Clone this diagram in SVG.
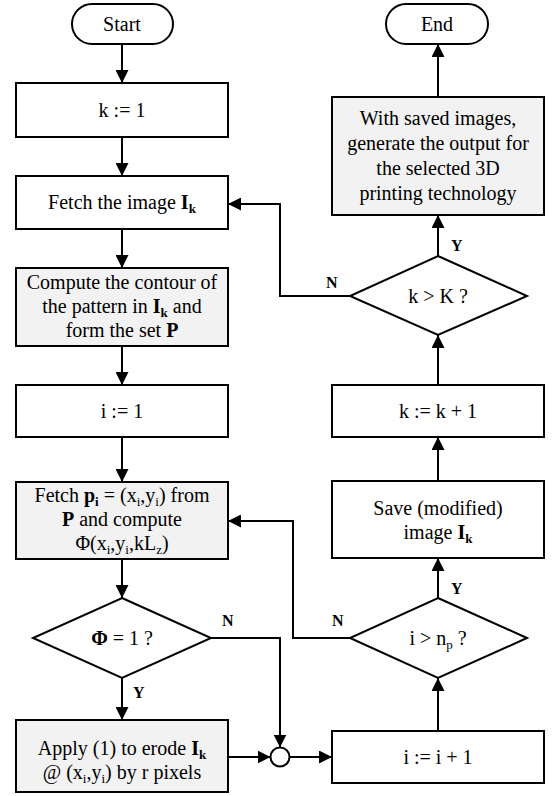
<svg xmlns="http://www.w3.org/2000/svg" width="558" height="796" viewBox="0 0 558 796" font-family="'Liberation Serif', 'Times New Roman', 'DejaVu Serif', serif">
<defs>
<style>
.box{fill:#ffffff;stroke:#000;stroke-width:2}
.gray{fill:#f2f2f2;stroke:#000;stroke-width:2}
.t{font-size:20px;fill:#000;text-anchor:middle}
.s{font-size:13px}
.b{font-weight:bold}
.lbl{font-size:16px;font-weight:bold;fill:#000}
.c{fill:none;stroke:#000;stroke-width:2;marker-end:url(#arr)}
</style>
<marker id="arr" markerUnits="userSpaceOnUse" markerWidth="14" markerHeight="13" refX="13" refY="6.5" orient="auto">
<path d="M0,0 L13,6.5 L0,13 z" fill="#000"/>
</marker>
</defs>
<rect width="558" height="796" fill="#fff"/>

<g id="start">
<rect class="box" x="72" y="4" width="101" height="40" rx="20" ry="20"/>
<text class="t" x="122" y="31">Start</text>
</g>
<g id="k1">
<rect class="box" x="16" y="83" width="212" height="54"/>
<text class="t" x="122" y="117">k := 1</text>
</g>
<g id="fetchimg">
<rect class="box" x="16" y="176" width="212" height="53"/>
<text class="t" x="122" y="209">Fetch the image <tspan class="b">I</tspan><tspan class="b s" dy="4">k</tspan></text>
</g>
<g id="contour">
<rect class="gray" x="16" y="268" width="212" height="78"/>
<text class="t" x="122" y="289">Compute the contour of</text>
<text class="t" x="122" y="313">the pattern in <tspan class="b">I</tspan><tspan class="b s" dy="4">k</tspan><tspan dy="-4"> and</tspan></text>
<text class="t" x="122" y="337">form the set <tspan class="b">P</tspan></text>
</g>
<g id="i1">
<rect class="box" x="16" y="385" width="212" height="52"/>
<text class="t" x="122" y="418">i := 1</text>
</g>
<g id="fetchp">
<rect class="gray" x="16" y="482" width="212" height="77"/>
<text class="t" x="122" y="502">Fetch <tspan class="b">p</tspan><tspan class="b s" dy="4">i</tspan><tspan dy="-4"> = (x</tspan><tspan class="s" dy="4">i</tspan><tspan dy="-4">,y</tspan><tspan class="s" dy="4">i</tspan><tspan dy="-4">) from</tspan></text>
<text class="t" x="122" y="526"><tspan class="b">P</tspan> and compute</text>
<text class="t" x="122" y="550">Φ(x<tspan class="s" dy="4">i</tspan><tspan dy="-4">,y</tspan><tspan class="s" dy="4">i</tspan><tspan dy="-4">,kL</tspan><tspan class="s" dy="4">z</tspan><tspan dy="-4">)</tspan></text>
</g>
<g id="phi">
<polygon class="box" points="122,598 211,638 122,678 33,638"/>
<text class="t" x="122" y="645"><tspan class="b">Φ</tspan> = 1 ?</text>
</g>
<g id="apply">
<rect class="gray" x="16" y="720" width="212" height="72"/>
<text class="t" x="122" y="755">Apply (1) to erode <tspan class="b">I</tspan><tspan class="b s" dy="4">k</tspan></text>
<text class="t" x="122" y="779">@ (x<tspan class="s" dy="4">i</tspan><tspan dy="-4">,y</tspan><tspan class="s" dy="4">i</tspan><tspan dy="-4">) by r pixels</tspan></text>
</g>
<g id="merge">
<circle class="box" cx="280" cy="757" r="9.5"/>
</g>
<g id="iinc">
<rect class="box" x="332" y="731" width="212" height="52"/>
<text class="t" x="438" y="764">i := i + 1</text>
</g>
<g id="inp">
<polygon class="box" points="438,598 527,638 438,678 350,638"/>
<text class="t" x="438" y="645">i &gt; n<tspan class="s" dy="4">p</tspan><tspan dy="-4"> ?</tspan></text>
</g>
<g id="save">
<rect class="box" x="332" y="481" width="212" height="77"/>
<text class="t" x="438" y="515">Save (modified)</text>
<text class="t" x="438" y="539">image <tspan class="b">I</tspan><tspan class="b s" dy="4">k</tspan></text>
</g>
<g id="kinc">
<rect class="box" x="332" y="385" width="212" height="52"/>
<text class="t" x="438" y="418">k := k + 1</text>
</g>
<g id="kK">
<polygon class="box" points="438,256 527,296 438,335 350,296"/>
<text class="t" x="438" y="303">k &gt; K ?</text>
</g>
<g id="output">
<rect class="gray" x="332" y="97" width="212" height="118"/>
<text class="t" x="438" y="125">With saved images,</text>
<text class="t" x="438" y="150">generate the output for</text>
<text class="t" x="438" y="175">the selected 3D</text>
<text class="t" x="438" y="200">printing technology</text>
</g>
<g id="end">
<rect class="box" x="386" y="4" width="102" height="40" rx="20" ry="20"/>
<text class="t" x="437" y="31">End</text>
</g>

<g id="connectors">
<path class="c" d="M122,44 V83"/>
<path class="c" d="M122,137 V176"/>
<path class="c" d="M122,229 V268"/>
<path class="c" d="M122,346 V385"/>
<path class="c" d="M122,437 V482"/>
<path class="c" d="M122,559 V598"/>
<path class="c" d="M122,678 V720"/>
<path class="c" d="M211,638 H280 V747.5"/>
<path class="c" d="M228,757 H270.5"/>
<path class="c" d="M289.5,757 H332"/>
<path class="c" d="M438,731 V678"/>
<path class="c" d="M350,638 H293 V521 H228"/>
<path class="c" d="M438,598 V558"/>
<path class="c" d="M438,481 V437"/>
<path class="c" d="M438,385 V335"/>
<path class="c" d="M438,256 V215"/>
<path class="c" d="M350,296 H280 V204 H228"/>
<path class="c" d="M438,97 V44"/>
<text class="lbl" x="326" y="288">N</text>
<text class="lbl" x="451" y="251">Y</text>
<text class="lbl" x="332" y="626">N</text>
<text class="lbl" x="451" y="594">Y</text>
<text class="lbl" x="222" y="626">N</text>
<text class="lbl" x="133" y="698">Y</text>
</g>
</svg>
